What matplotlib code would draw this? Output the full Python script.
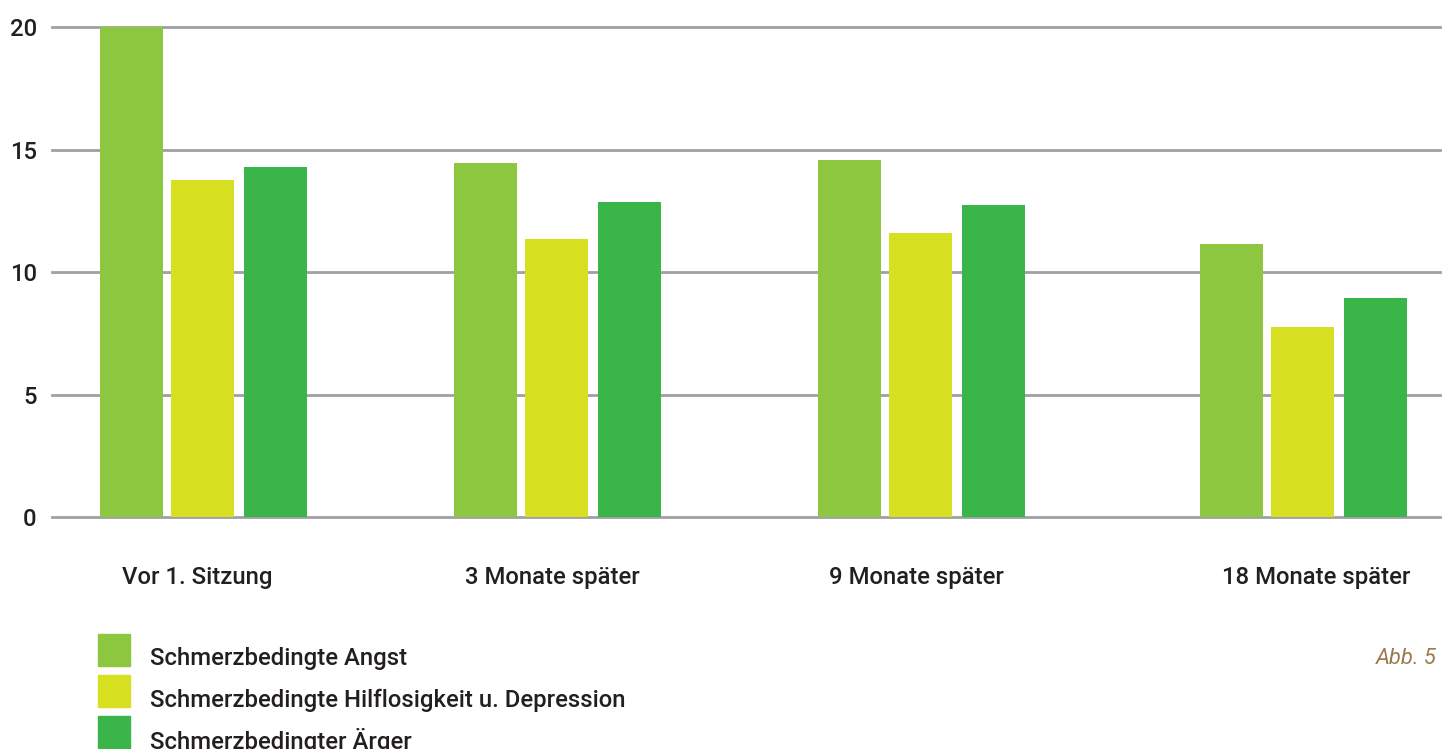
import matplotlib.pyplot as plt
from matplotlib.patches import Rectangle

plt.rcParams['font.family'] = ['Roboto', 'DejaVu Sans']

# Zeitpunkte und Mittelwerte je Skala
zeitpunkte = ['Vor 1. Sitzung', '3 Monate später', '9 Monate später', '18 Monate später']
serien = ['Schmerzbedingte Angst',
          'Schmerzbedingte Hilflosigkeit u. Depression',
          'Schmerzbedingter Ärger']
angst = [20.0, 14.44, 14.57, 11.15]
hilflosigkeit = [13.76, 11.35, 11.6, 7.78]
aerger = [14.28, 12.86, 12.74, 8.96]
werte = [angst, hilflosigkeit, aerger]
farben = ['#8dc63f', '#d7df21', '#39b54a']
yticks = [0, 5, 10, 15, 20]

W, H = 1445, 749
fig = plt.figure(figsize=(W / 100, H / 100), dpi=100)
ax_left, ax_right, ax_top, ax_bottom = 52, 1440, 27, 517.3
ax = fig.add_axes([ax_left / W, 1 - ax_bottom / H,
                   (ax_right - ax_left) / W, (ax_bottom - ax_top) / H])

# Gruppenmitten (Layout), Beschriftungspositionen und Balkenversatz
gruppen_x = [151.5, 505.5, 869.5, 1252]
label_x = [145.5, 500, 864.5, 1264]
versatz = [-72, -1, 72]
breite = 63

for vals, farbe, dx in zip(werte, farben, versatz):
    ax.bar([g + dx for g in gruppen_x], vals, width=breite, color=farbe,
           zorder=3, linewidth=0)

for y in yticks:
    ax.axhline(y, color='#a0a0a2', linewidth=2, zorder=1, clip_on=False)

ax.set_xlim(0, ax_right - ax_left)
ax.set_ylim(0, 20)
ax.set_yticks(yticks)
ax.set_xticks(label_x)
ax.set_xticklabels(zeitpunkte)
for s in ax.spines.values():
    s.set_visible(False)
ax.tick_params(axis='both', length=0, labelsize=17.2, labelcolor='#231f20')
ax.tick_params(axis='y', pad=11)
ax.tick_params(axis='x', pad=35)
for lbl in ax.get_xticklabels() + ax.get_yticklabels():
    lbl.set_fontweight('medium')

# Legende unten links
for i, (name, farbe) in enumerate(zip(serien, farben)):
    top = 634 + i * 41
    fig.patches.append(Rectangle((98 / W, 1 - (top + 32) / H), 32 / W, 32 / H,
                                 transform=fig.transFigure, color=farbe))
    fig.text(150 / W, 1 - (top + 25) / H, name, fontsize=17.2, fontweight='medium',
             color='#231f20', va='center', ha='left')

fig.text(1437 / W, 1 - 658 / H, 'Abb. 5', fontsize=15.8, style='italic',
         color='#9b7b4b', ha='right', va='center')

fig.savefig('out.png', dpi=100, facecolor='white')
